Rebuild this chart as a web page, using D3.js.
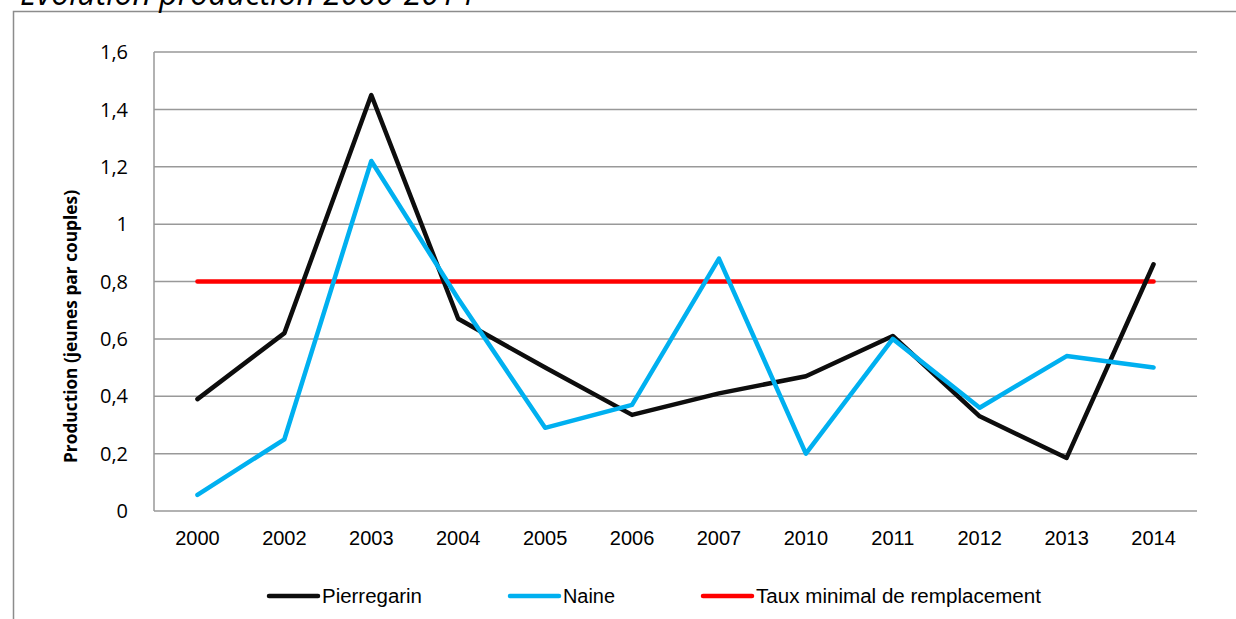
<!DOCTYPE html>
<html><head><meta charset="utf-8">
<script src="https://cdn.jsdelivr.net/npm/d3@7"></script>
<style>html,body{margin:0;padding:0;background:#fff;overflow:hidden}</style>
</head><body><svg id="c" width="1236" height="619"></svg>
<script>
const categories = ["2000","2002","2003","2004","2005","2006","2007","2010","2011","2012","2013","2014"];
const pierregarin = [0.39,0.62,1.45,0.67,0.50,0.335,0.41,0.47,0.61,0.33,0.185,0.86];
const naine = [0.056,0.25,1.22,0.74,0.29,0.37,0.88,0.20,0.60,0.36,0.54,0.50];
const tauxMinimal = [0.8,0.8,0.8,0.8,0.8,0.8,0.8,0.8,0.8,0.8,0.8,0.8];
const yTicks = [0,0.2,0.4,0.6,0.8,1,1.2,1.4,1.6];
const seriesNames = ["Pierregarin","Naine","Taux minimal de remplacement"];
const seriesColors = ["#0d0d0d","#00b0f0","#ff0000"];
const titleText = "Évolution production 2000-2014";
const yTitle = "Production (jeunes par couples)";

const svg = d3.select("#c");
const L=154,R=1197,T=52,B=511;
const x = d3.scaleBand().domain(categories).range([L,R]);
const y = d3.scaleLinear().domain([0,1.6]).range([B,T]);
const cx = c => x(c)+x.bandwidth()/2;

// outer frame
svg.append("path").attr("d","M13.5,619 L13.5,11.5 L1236,11.5").attr("fill","none").attr("stroke","#8c8c8c").attr("stroke-width",1.5);
// title (cut by the top edge as in the reference)
svg.append("text").attr("x",20).attr("y",5).attr("font-family","Open Sans").attr("font-style","italic")
  .attr("font-size",32).attr("fill","#000").text(titleText);

// gridlines
const gridG = svg.append("g");
gridG.selectAll("line").data(yTicks.filter(d=>d>0)).join("line")
  .attr("x1",L).attr("x2",R).attr("y1",d=>y(d)).attr("y2",d=>y(d))
  .attr("stroke","#999").attr("stroke-width",1.5);
// axes lines
svg.append("line").attr("x1",L).attr("x2",L).attr("y1",T).attr("y2",B).attr("stroke","#999").attr("stroke-width",1.5);
svg.append("line").attr("x1",L).attr("x2",R).attr("y1",B).attr("y2",B).attr("stroke","#999").attr("stroke-width",1.5);

// y tick labels
const fmt = d => String(d).replace(".",",");
svg.append("g").selectAll("text").data(yTicks).join("text")
  .attr("x",128).attr("y",d=>y(d)).attr("dy","0.36em").attr("text-anchor","end")
  .attr("font-family","Open Sans").attr("font-size",20).attr("fill","#000").text(fmt);

// x labels
svg.append("g").selectAll("text").data(categories).join("text")
  .attr("x",d=>cx(d)).attr("y",545).attr("text-anchor","middle")
  .attr("font-family","Liberation Sans, Arial").attr("font-size",20).attr("fill","#000").text(d=>d);

// y title
svg.append("text").attr("transform","translate(77,326.5) rotate(-90)").attr("text-anchor","middle")
  .attr("font-family","Open Sans").attr("font-weight","bold").attr("font-size",18)
  .attr("textLength",273).attr("lengthAdjust","spacingAndGlyphs").attr("fill","#000").text(yTitle);

// lines
const line = d3.line().x((d,i)=>cx(categories[i])).y(d=>y(d));
const allSeries = [tauxMinimal, pierregarin, naine];
const allColors = [seriesColors[2], seriesColors[0], seriesColors[1]];
svg.append("g").selectAll("path").data(allSeries).join("path")
  .attr("d",d=>line(d)).attr("fill","none").attr("stroke",(d,i)=>allColors[i])
  .attr("stroke-width",4.5).attr("stroke-linejoin","round").attr("stroke-linecap","round");

// legend
const legX = [269,510,703];
const legW = [100,52,285];
const lg = svg.append("g").selectAll("g").data(seriesNames).join("g");
lg.append("line").attr("x1",(d,i)=>legX[i]).attr("x2",(d,i)=>legX[i]+49).attr("y1",596).attr("y2",596)
  .attr("stroke",(d,i)=>seriesColors[i]).attr("stroke-width",4.5).attr("stroke-linecap","round");
lg.append("text").attr("x",(d,i)=>legX[i]+53).attr("y",603)
  .attr("font-family","Liberation Sans, Arial").attr("font-size",20)
  .attr("textLength",(d,i)=>legW[i]).attr("lengthAdjust","spacingAndGlyphs").attr("fill","#000").text(d=>d);
</script></body></html>
